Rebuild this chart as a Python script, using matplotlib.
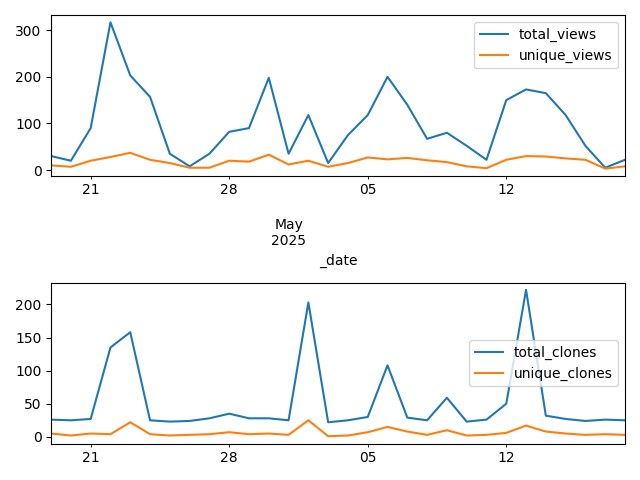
import matplotlib
matplotlib.use('Agg')
import matplotlib.pyplot as plt
import matplotlib.dates as mdates
import numpy as np
import pandas as pd

dates = pd.date_range('2025-04-19', '2025-05-18', freq='D')
total_views = [30, 20, 90, 317, 203, 157, 35, 8, 35, 82, 90, 198, 35, 118, 15,
               75, 118, 200, 140, 67, 80, 52, 22, 150, 173, 165, 118, 52, 5, 22]
unique_views = [10, 7, 20, 28, 37, 22, 15, 5, 5, 20, 18, 33, 12, 20, 7,
                15, 27, 23, 26, 21, 17, 8, 4, 22, 30, 29, 25, 22, 3, 8]
total_clones = [26, 25, 27, 135, 158, 25, 23, 24, 28, 35, 28, 28, 25, 203, 22,
                25, 30, 108, 29, 25, 59, 23, 26, 50, 222, 32, 27, 24, 26, 25]
unique_clones = [5, 2, 5, 4, 22, 4, 2, 3, 4, 7, 4, 5, 3, 25, 1,
                 2, 7, 15, 8, 3, 10, 2, 3, 6, 17, 8, 5, 3, 4, 3]

fig, (ax1, ax2) = plt.subplots(2, 1, figsize=(6.4, 4.8))

ax1.plot(dates, total_views, label='total_views')
ax1.plot(dates, unique_views, label='unique_views')
ax2.plot(dates, total_clones, label='total_clones')
ax2.plot(dates, unique_clones, label='unique_clones')

weekly = pd.date_range('2025-04-21', '2025-05-12', freq='7D')
for ax in (ax1, ax2):
    ax.set_xlim(dates[0], dates[-1])
    ax.set_xticks(weekly, minor=True)
    ax.set_xticklabels([d.strftime('%d') for d in weekly], minor=True)
    ax.legend()

ax1.set_xticks([pd.Timestamp('2025-05-01')])
ax1.set_xticklabels(['May\n2025'])
ax1.tick_params(axis='x', which='major', pad=30, length=0)
ax1.set_xlabel('_date')
ax2.set_xticks([])

fig.tight_layout()
fig.savefig('out.png', dpi=100)
